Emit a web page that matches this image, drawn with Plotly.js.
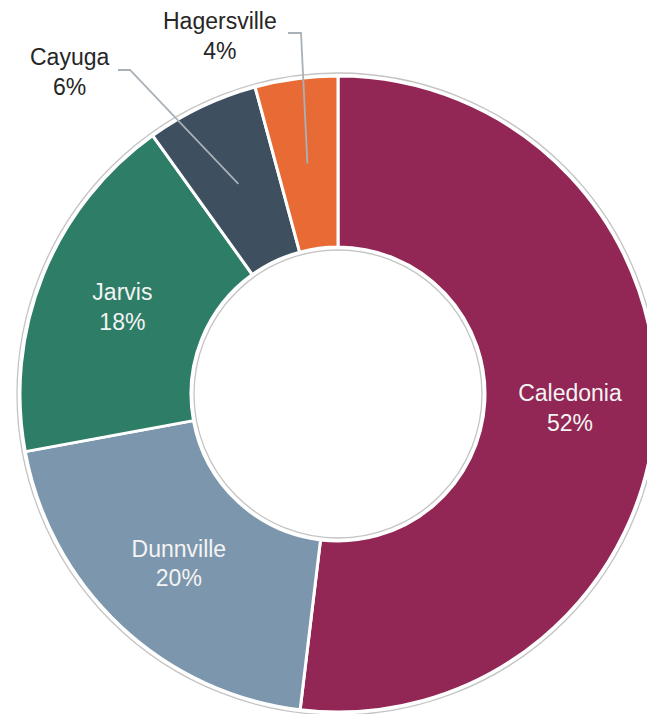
<!DOCTYPE html>
<html>
<head>
<meta charset="utf-8">
<script src="https://cdn.plot.ly/plotly-3.0.1.min.js"></script>
<style>
html,body{margin:0;padding:0;overflow:hidden;background:#fff;width:647px;height:714px;}
#chart{width:676px;height:730px;}
</style>
</head>
<body>
<div id="chart"></div>
<script>
// Data
var labels = ["Caledonia", "Dunnville", "Jarvis", "Cayuga", "Hagersville"];
var values = [51.9, 20.2, 18.0, 5.7, 4.2];
var colors = ["#922655", "#7C97AD", "#2E7D67", "#3E4F60", "#E86B35"];
var outsideLabels = ["Cayuga", "Hagersville"];

// Layout constants (pixels)
var W = 676, H = 730;
var CX = 338, CY = 394, R = 318, RH = 147;
var GAP = 3;

function dom(cy, r) {
  return {x: [(CX - r) / W, (CX + r) / W], y: [1 - (cy + r) / H, 1 - (cy - r) / H]};
}

var total = values.reduce(function(a, b){return a + b;}, 0);
var texts = labels.map(function(l, i){
  return outsideLabels.indexOf(l) >= 0 ? "" : l + "<br>" + Math.round(values[i] / total * 100) + "%";
});

var underlay = {
  type: "pie", values: [1], labels: ["ring"], sort: false,
  domain: dom(CY, R + GAP), hole: (RH - GAP) / (R + GAP),
  marker: {colors: ["rgba(0,0,0,0)"], line: {color: "#C4C4C4", width: 1.3}},
  textinfo: "none", hoverinfo: "skip", showlegend: false
};

var main = {
  type: "pie", values: values, labels: labels, sort: false,
  direction: "clockwise", rotation: 0,
  domain: dom(CY, R), hole: RH / R,
  marker: {colors: colors, line: {color: "#FFFFFF", width: 3}},
  text: texts, textinfo: "text", texttemplate: "%{text}",
  textposition: "inside", insidetextorientation: "horizontal",
  insidetextfont: {family: "Liberation Sans, Arial, sans-serif", size: 23, color: "#F4F4F4"},
  hoverinfo: "label+percent", showlegend: false
};

// Outside label positions (pixels) and leader elbows
var outPos = {
  "Cayuga": {x: 69, y: 72, ex: 118, ey: 70, bx: 130, by: 70},
  "Hagersville": {x: 220, y: 36, ex: 288, ey: 33, bx: 301, by: 33}
};

var annotations = [], shapes = [];
var cum = 0;
var rMid = (R + RH) / 2;
labels.forEach(function(l, i){
  var start = cum; cum += values[i];
  if (outsideLabels.indexOf(l) < 0) return;
  var mid = (start + values[i] / 2) / total * 2 * Math.PI;
  var px = CX + rMid * Math.sin(mid), py = CY - rMid * Math.cos(mid);
  var p = outPos[l];
  annotations.push({
    xref: "paper", yref: "paper", x: p.x / W, y: 1 - p.y / H,
    xanchor: "center", yanchor: "middle", showarrow: false,
    text: l + "<br>" + Math.round(values[i] / total * 100) + "%",
    font: {family: "Liberation Sans, Arial, sans-serif", size: 23, color: "#262626"}
  });
  shapes.push({
    type: "path", xref: "paper", yref: "paper",
    path: "M" + (p.ex / W) + "," + (1 - p.ey / H) + " L" + (p.bx / W) + "," + (1 - p.by / H) +
          " L" + (px / W) + "," + (1 - py / H),
    line: {color: "#A9B1B8", width: 1.8}
  });
});

var layout = {
  width: W, height: H,
  margin: {l: 0, r: 0, t: 0, b: 0},
  paper_bgcolor: "#FFFFFF",
  showlegend: false,
  annotations: annotations,
  shapes: shapes
};

Plotly.newPlot("chart", [underlay, main], layout, {staticPlot: true, displayModeBar: false});
</script>
</body>
</html>
